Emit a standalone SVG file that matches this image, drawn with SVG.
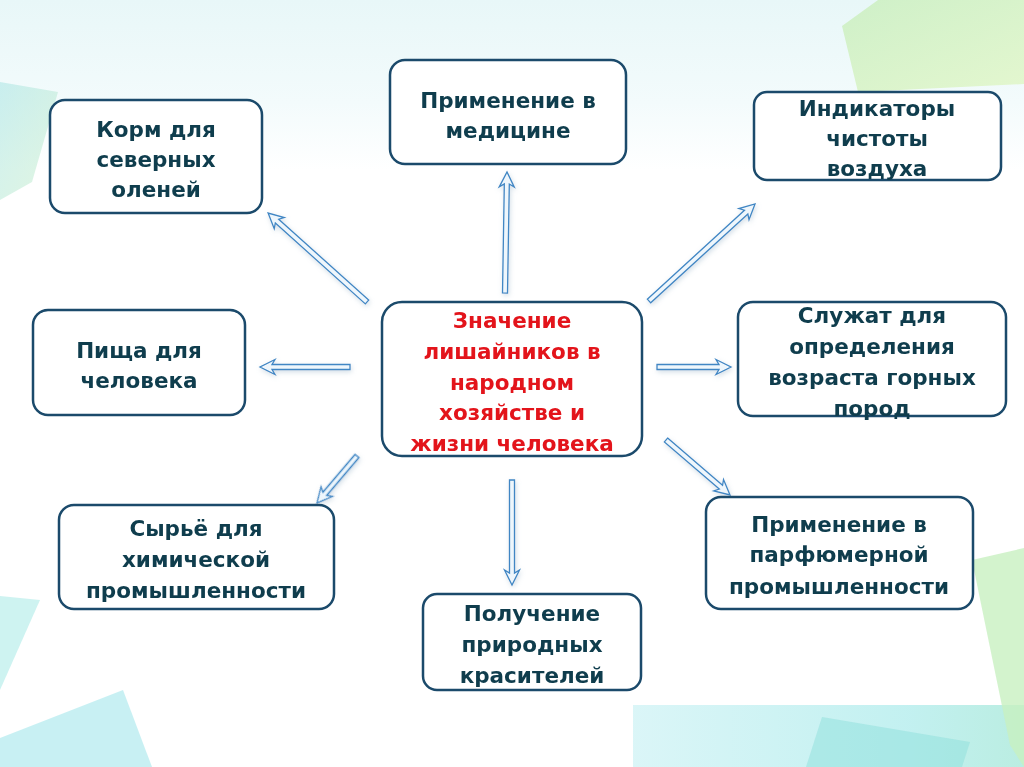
<svg xmlns="http://www.w3.org/2000/svg" width="1024" height="767" viewBox="0 0 1024 767">
<defs>
<linearGradient id="topHaze" x1="0" y1="0" x2="0" y2="1">
<stop offset="0" stop-color="#e8f7f8"/>
<stop offset="0.6" stop-color="#f3fbfc"/>
<stop offset="1" stop-color="#ffffff"/>
</linearGradient>
<linearGradient id="green" x1="0" y1="0" x2="1" y2="1">
<stop offset="0" stop-color="#c8eebc"/>
<stop offset="1" stop-color="#e0f6c4"/>
</linearGradient>
<linearGradient id="teal" x1="0" y1="0" x2="1" y2="1">
<stop offset="0" stop-color="#a8e4e4"/>
<stop offset="1" stop-color="#c8eec8"/>
</linearGradient>
<linearGradient id="tealB" x1="0" y1="0" x2="1" y2="0">
<stop offset="0" stop-color="#d4f4f6"/>
<stop offset="0.7" stop-color="#b8eeee"/>
<stop offset="1" stop-color="#aeeadc"/>
</linearGradient>
<filter id="glow" x="-20%" y="-20%" width="140%" height="140%">
<feGaussianBlur in="SourceAlpha" stdDeviation="2.5"/>
<feOffset dx="1" dy="2" result="b"/>
<feFlood flood-color="#9fb8cc" flood-opacity="0.45"/>
<feComposite in2="b" operator="in"/>
<feMerge><feMergeNode/><feMergeNode in="SourceGraphic"/></feMerge>
</filter>
</defs>
<style>
.box{fill:#ffffff;stroke:#1b4a6b;stroke-width:2.5}
.t{font-family:"DejaVu Sans","Liberation Sans",sans-serif;font-weight:bold;font-size:21.5px;fill:#0f3d4d;text-anchor:middle}
.r{fill:#e3141b}
.arr{fill:#eef6fc;stroke:#3f86c4;stroke-width:1.3;stroke-linejoin:miter}
</style>

<g id="background">
<rect x="0" y="0" width="1024" height="767" fill="#ffffff"/>
<rect x="0" y="0" width="1024" height="170" fill="url(#topHaze)"/>
<polygon points="842,26 878,0 1024,0 1024,84 858,92" fill="url(#green)" opacity="0.8"/>
<polygon points="0,82 58,92 32,182 0,200" fill="url(#teal)" opacity="0.55"/>
<polygon points="0,596 40,600 0,690" fill="#b4ecea" opacity="0.65"/>
<polygon points="0,738 123,690 152,767 0,767" fill="#b0eaee" opacity="0.7"/>
<rect x="633" y="705" width="391" height="62" fill="url(#tealB)" opacity="0.85"/>
<polygon points="822,717 970,742 962,767 806,767" fill="#8ee0dc" opacity="0.5"/>
<polygon points="972,560 1024,548 1024,767 1010,745" fill="#c8f0c0" opacity="0.8"/>
</g>

<g id="connectors" filter="url(#glow)">
<polygon class="arr" transform="translate(367,302) rotate(221.96)" points="0,-2.5 121,-2.5 118,-7.5 133,0 118,7.5 121,2.5 0,2.5"/>
<polygon class="arr" transform="translate(505,293) rotate(270.95)" points="0,-2.5 109,-2.5 106,-7.5 121,0 106,7.5 109,2.5 0,2.5"/>
<polygon class="arr" transform="translate(649,301) rotate(-42.46)" points="0,-2.5 131.7,-2.5 128.7,-7.5 143.7,0 128.7,7.5 131.7,2.5 0,2.5"/>
<polygon class="arr" transform="translate(657,367) rotate(0)" points="0,-2.5 62,-2.5 59,-7.5 74,0 59,7.5 62,2.5 0,2.5"/>
<polygon class="arr" transform="translate(666,440) rotate(40.67)" points="0,-2.5 72.4,-2.5 69.4,-7.5 84.4,0 69.4,7.5 72.4,2.5 0,2.5"/>
<polygon class="arr" transform="translate(512,480) rotate(90)" points="0,-2.5 93,-2.5 90,-7.5 105,0 90,7.5 93,2.5 0,2.5"/>
<polygon class="arr" transform="translate(357,456) rotate(130.4)" points="0,-2.5 49.7,-2.5 46.7,-7.5 61.7,0 46.7,7.5 49.7,2.5 0,2.5"/>
<polygon class="arr" transform="translate(350,367) rotate(180)" points="0,-2.5 78,-2.5 75,-7.5 90,0 75,7.5 78,2.5 0,2.5"/>
</g>

<g id="center">
<rect class="box" x="382" y="302" width="260" height="154" rx="20"/>
<text class="t r" x="512" y="328">Значение</text>
<text class="t r" x="512" y="359">лишайников в</text>
<text class="t r" x="512" y="390">народном</text>
<text class="t r" x="512" y="420">хозяйстве и</text>
<text class="t r" x="512" y="451">жизни человека</text>
</g>

<g id="korm">
<rect class="box" x="50" y="100" width="212" height="113" rx="15"/>
<text class="t" x="156" y="137">Корм для</text>
<text class="t" x="156" y="167">северных</text>
<text class="t" x="156" y="197">оленей</text>
</g>

<g id="pishcha">
<rect class="box" x="33" y="310" width="212" height="105" rx="15"/>
<text class="t" x="139" y="358">Пища для</text>
<text class="t" x="139" y="388">человека</text>
</g>

<g id="medicina">
<rect class="box" x="390" y="60" width="236" height="104" rx="15"/>
<text class="t" x="508" y="108">Применение в</text>
<text class="t" x="508" y="138">медицине</text>
</g>

<g id="indikatory">
<rect class="box" x="754" y="92" width="247" height="88" rx="13"/>
<text class="t" x="877" y="116">Индикаторы</text>
<text class="t" x="877" y="146">чистоты</text>
<text class="t" x="877" y="176">воздуха</text>
</g>

<g id="sluzhat">
<rect class="box" x="738" y="302" width="268" height="114" rx="15"/>
<text class="t" x="872" y="323">Служат для</text>
<text class="t" x="872" y="354">определения</text>
<text class="t" x="872" y="385">возраста горных</text>
<text class="t" x="872" y="416">пород</text>
</g>

<g id="parfyum">
<rect class="box" x="706" y="497" width="267" height="112" rx="15"/>
<text class="t" x="839" y="532">Применение в</text>
<text class="t" x="839" y="562">парфюмерной</text>
<text class="t" x="839" y="594">промышленности</text>
</g>

<g id="krasiteli">
<rect class="box" x="423" y="594" width="218" height="96" rx="14"/>
<text class="t" x="532" y="621">Получение</text>
<text class="t" x="532" y="652">природных</text>
<text class="t" x="532" y="683">красителей</text>
</g>

<g id="syrye">
<rect class="box" x="59" y="505" width="275" height="104" rx="15"/>
<text class="t" x="196" y="536">Сырьё для</text>
<text class="t" x="196" y="567">химической</text>
<text class="t" x="196" y="598">промышленности</text>
</g>
</svg>
